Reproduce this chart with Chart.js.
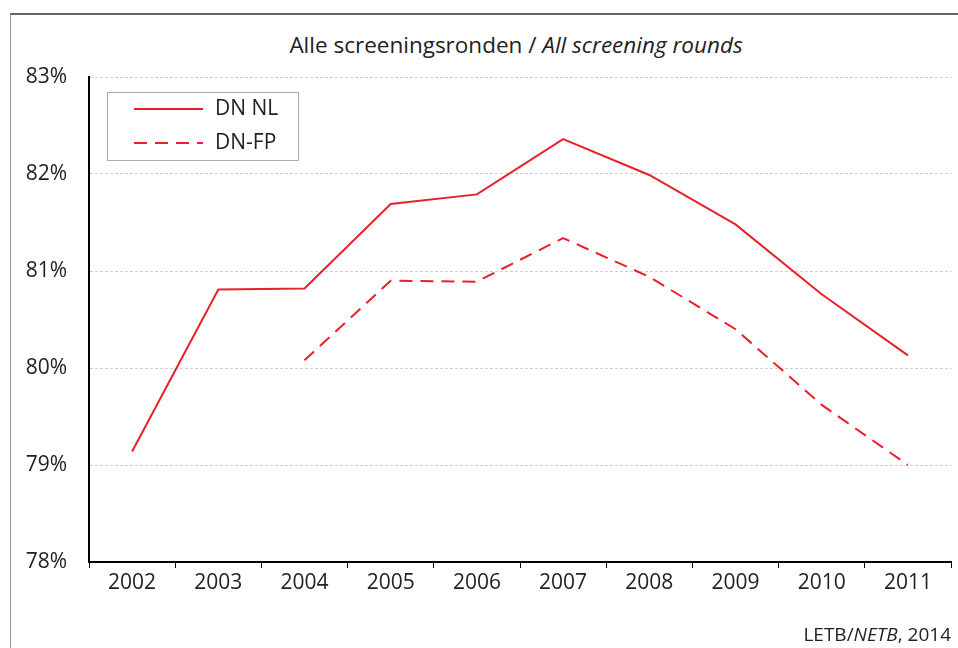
<!DOCTYPE html>
<html>
<head>
<meta charset="utf-8">
<script src="https://cdn.jsdelivr.net/npm/chart.js@4.4.1/dist/chart.umd.min.js"></script>
<style>
  body { margin: 0; background: #fff; font-family: 'Open Sans', sans-serif; }
  #wrap { position: relative; width: 958px; height: 648px; overflow: hidden; }
  #frame { position: absolute; left: 10px; top: 13px; width: 1000px; height: 700px;
           border-top: 2px solid #666; border-left: 1.5px solid #999; }
  #title { position: absolute; left: 80px; width: 872px; top: 30px; text-align: center;
           font-size: 22.5px; color: #222; line-height: 1.36; }
  #footer { position: absolute; right: 7px; top: 621px; font-size: 19px; color: #222; }
  canvas { position: absolute; left: 0; top: 0; }
</style>
</head>
<body>
<div id="wrap">
  <div id="frame"></div>
  <div id="title">Alle screeningsronden / <i>All screening rounds</i></div>
  <canvas id="chart" width="958" height="648"></canvas>
  <div id="footer">LETB/<i>NETB</i>, 2014</div>
</div>
<script>
// ---------------------------------------------------------------------------
// data
// ---------------------------------------------------------------------------
const years = ['2002', '2003', '2004', '2005', '2006', '2007', '2008', '2009', '2010', '2011'];
const dnNL = [79.14, 80.81, 80.82, 81.69, 81.79, 82.36, 81.99, 81.48, 80.76, 80.13];
const dnFP = [null, null, 80.08, 80.90, 80.89, 81.34, 80.94, 80.40, 79.62, 79.00];
const seriesLabels = ['DN NL', 'DN-FP'];

const RED = '#e8202a';
const FONT = "'Open Sans', sans-serif";

// legend box drawn inside the plot area
const innerLegend = {
  id: 'innerLegend',
  afterDraw(chart) {
    const ctx = chart.ctx;
    const x = 107, y = 92, w = 191, h = 68;
    ctx.save();
    ctx.fillStyle = '#fff';
    ctx.fillRect(x, y, w, h);
    ctx.strokeStyle = '#aaa';
    ctx.lineWidth = 1;
    ctx.strokeRect(x + 0.5, y + 0.5, w, h);
    chart.data.datasets.forEach((ds, i) => {
      const ly = 109 + i * 34;
      ctx.strokeStyle = ds.borderColor;
      ctx.lineWidth = 2;
      ctx.setLineDash(ds.borderDash || []);
      ctx.beginPath();
      ctx.moveTo(134, ly);
      ctx.lineTo(203, ly);
      ctx.stroke();
      ctx.setLineDash([]);
      ctx.fillStyle = '#222';
      ctx.font = '21px ' + FONT;
      ctx.textBaseline = 'middle';
      ctx.fillText(ds.label, 215, ly);
    });
    ctx.restore();
  }
};

new Chart(document.getElementById('chart'), {
  type: 'line',
  data: {
    labels: years,
    datasets: [
      { label: seriesLabels[0], data: dnNL, borderColor: RED, borderWidth: 2, pointRadius: 0, fill: false, tension: 0 },
      { label: seriesLabels[1], data: dnFP, borderColor: RED, borderWidth: 2, borderDash: [13, 8], pointRadius: 0, fill: false, tension: 0 }
    ]
  },
  options: {
    responsive: false,
    animation: false,
    layout: { padding: { left: 0, top: 77, right: 7, bottom: 0 } },
    plugins: { legend: { display: false }, tooltip: { enabled: false }, title: { display: false } },
    scales: {
      x: {
        offset: true,
        afterFit(scale) { scale.height = 86; },
        border: { color: '#000', width: 2 },
        grid: { offset: true, drawOnChartArea: false, drawTicks: true, tickLength: 6, color: '#000', lineWidth: 1 },
        ticks: { color: '#222', font: { family: FONT, size: 21 }, padding: 2, maxRotation: 0 }
      },
      y: {
        min: 78, max: 83,
        afterFit(scale) { scale.width = 89; },
        border: { color: '#000', width: 2, dash: [3, 2] },
        grid: { color: '#cfcfcf', lineWidth: 1, drawTicks: false },
        ticks: { stepSize: 1, color: '#222', font: { family: FONT, size: 21 }, padding: 22,
                 callback: v => v + '%' }
      }
    }
  },
  plugins: [innerLegend]
});
</script>
</body>
</html>
